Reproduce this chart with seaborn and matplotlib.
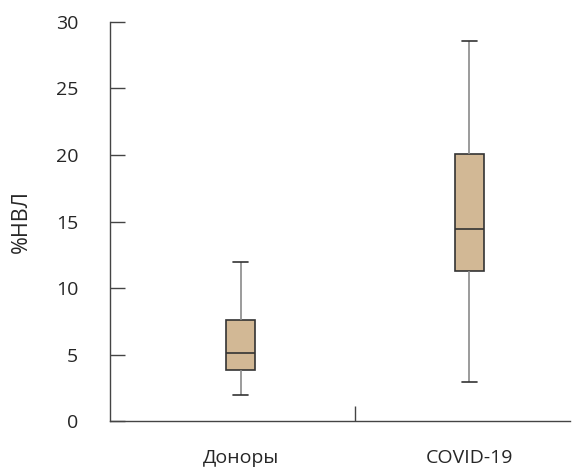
import numpy as np
import pandas as pd
import matplotlib
matplotlib.use("Agg")
import matplotlib.pyplot as plt
import seaborn as sns

# группы и пять чисел (мин, Q1, медиана, Q3, макс)
groups = ["Доноры", "COVID-19"]
donors = [1.95, 3.8, 5.15, 7.6, 11.95]
covid = [2.9, 11.3, 14.45, 20.05, 28.6]

df = pd.DataFrame({
    "group": [groups[0]] * len(donors) + [groups[1]] * len(covid),
    "value": donors + covid,
})

sns.set_style("white")
plt.rcParams["font.family"] = ["Open Sans", "DejaVu Sans"]

fig = plt.figure(figsize=(5.76, 4.68), dpi=100)
ax = fig.add_axes([0.191, 0.1004, 0.799, 0.8526])

sns.boxplot(data=df, x="group", y="value", order=groups, width=0.13,
            whis=np.inf, color="#d2b895", saturation=1, ax=ax,
            boxprops=dict(edgecolor="#333333", linewidth=1.2),
            medianprops=dict(color="#333333", linewidth=1.2),
            whiskerprops=dict(color="#8a8a8a", linewidth=1.2),
            capprops=dict(color="#333333", linewidth=1.2))

ax.set_xlim(-0.57, 1.44)
ax.set_ylim(0, 30)
ax.set_yticks(range(0, 31, 5))
ax.set_xlabel("")
ax.set_ylabel("%НВЛ", fontsize=15.5, labelpad=17)

sns.despine(ax=ax)
for s in ["left", "bottom"]:
    ax.spines[s].set_color("#444444")
    ax.spines[s].set_linewidth(1)

ax.tick_params(axis="y", direction="in", length=11, width=1, color="#444444",
               pad=23, labelsize=14, left=True)
ax.tick_params(axis="x", which="major", length=0, pad=20, labelsize=14)
ax.set_xticks([0.5], minor=True)
ax.tick_params(axis="x", which="minor", direction="in", length=11, width=1,
               color="#444444", bottom=True)

fig.savefig("out.png", dpi=100)
